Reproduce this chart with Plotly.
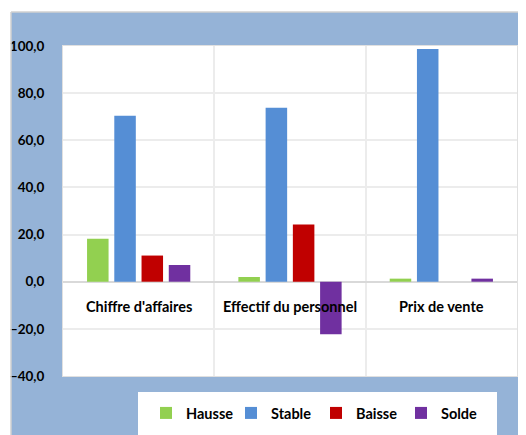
import plotly.graph_objects as go

categories = ["Chiffre d'affaires", "Effectif du personnel", "Prix de vente"]
series_names = ["Hausse", "Stable", "Baisse", "Solde"]
hausse = [18.2, 2.0, 1.3]
stable = [70.4, 73.8, 98.7]
baisse = [11.1, 24.3, 0.0]
solde = [7.1, -22.3, 1.3]
colors = ["#92d050", "#558ed5", "#c00000", "#7030a0"]
y_ticks = [-40, -20, 0, 20, 40, 60, 80, 100]

values = [hausse, stable, baisse, solde]
FONT = "Lato"

OFF = 8  # browser body margin
W, H = 526, 435
# plot area in page pixels
PX0, PX1, PY0, PY1 = 63, 517, 46, 376
L, T = PX0 - OFF, PY0 - OFF
R, B = W - (PX1 - OFF), H - (PY1 - OFF)
PW, PH = PX1 - PX0, PY1 - PY0


def px_x(px):
    return (px - PX0) / PW


def px_y(py):
    return (PY1 - py) / PH


fig = go.Figure()
for name, vals, col in zip(series_names, values, colors):
    fig.add_trace(go.Bar(x=categories, y=vals, name=name, marker=dict(color=col, line=dict(width=0))))

for c in categories:
    fig.add_annotation(x=c, y=0, xref="x", yref="y", text=c, showarrow=False,
                       yanchor="top", yshift=-14,
                       font=dict(family=FONT, size=14.5, color="#000000", weight="bold"))

# white margins outside the blue frame
fig.add_shape(type="rect", xref="paper", yref="paper", x0=-0.3, x1=px_x(11), y0=-0.3, y1=1.3,
              fillcolor="white", line=dict(width=0), layer="below")
fig.add_shape(type="rect", xref="paper", yref="paper", x0=-0.3, x1=1.1, y0=px_y(12), y1=1.3,
              fillcolor="white", line=dict(width=0), layer="below")
fig.add_shape(type="line", xref="paper", yref="paper", x0=px_x(11), x1=1.1,
              y0=px_y(12), y1=px_y(12), line=dict(color="#d0d0d0", width=1.5))
fig.add_shape(type="line", xref="paper", yref="paper", x0=px_x(11), x1=px_x(11),
              y0=-0.3, y1=px_y(12), line=dict(color="#d0d0d0", width=1.5))
# legend box
fig.add_shape(type="rect", xref="paper", yref="paper", x0=px_x(138), x1=px_x(497),
              y0=-0.3, y1=px_y(392), fillcolor="white", line=dict(width=0), layer="below")

fig.update_layout(
    width=W, height=H,
    margin=dict(l=L, r=R, t=T, b=B, autoexpand=False),
    paper_bgcolor="#95b3d7",
    plot_bgcolor="white",
    barmode="group",
    bargap=0.28,
    bargroupgap=0.21,
    showlegend=True,
    legend=dict(orientation="h", x=px_x(146), xanchor="left", y=px_y(413), yanchor="middle",
                bgcolor="rgba(0,0,0,0)", font=dict(family=FONT, size=14.5, color="#000000", weight="bold"),
                entrywidth=40, traceorder="normal"),
    xaxis=dict(showticklabels=False, tickson="boundaries", showgrid=True, gridcolor="#ececec",
               gridwidth=1.5, ticks="", showline=True, linecolor="#e0e0e0", mirror=True,
               fixedrange=True, automargin=False),
    yaxis=dict(range=[-40, 100], tickvals=y_ticks, tickformat=".1f", showgrid=True, gridcolor="#ececec",
               gridwidth=1.5, zeroline=True, zerolinecolor="#d9d9d9", zerolinewidth=2,
               showline=True, linecolor="#e0e0e0", mirror=True, ticks="", ticklabelstandoff=15,
               automargin=False,
               tickfont=dict(family=FONT, size=13.5, color="#000000", weight="bold")),
    separators=",.",
)

fig.write_html("out.html")
